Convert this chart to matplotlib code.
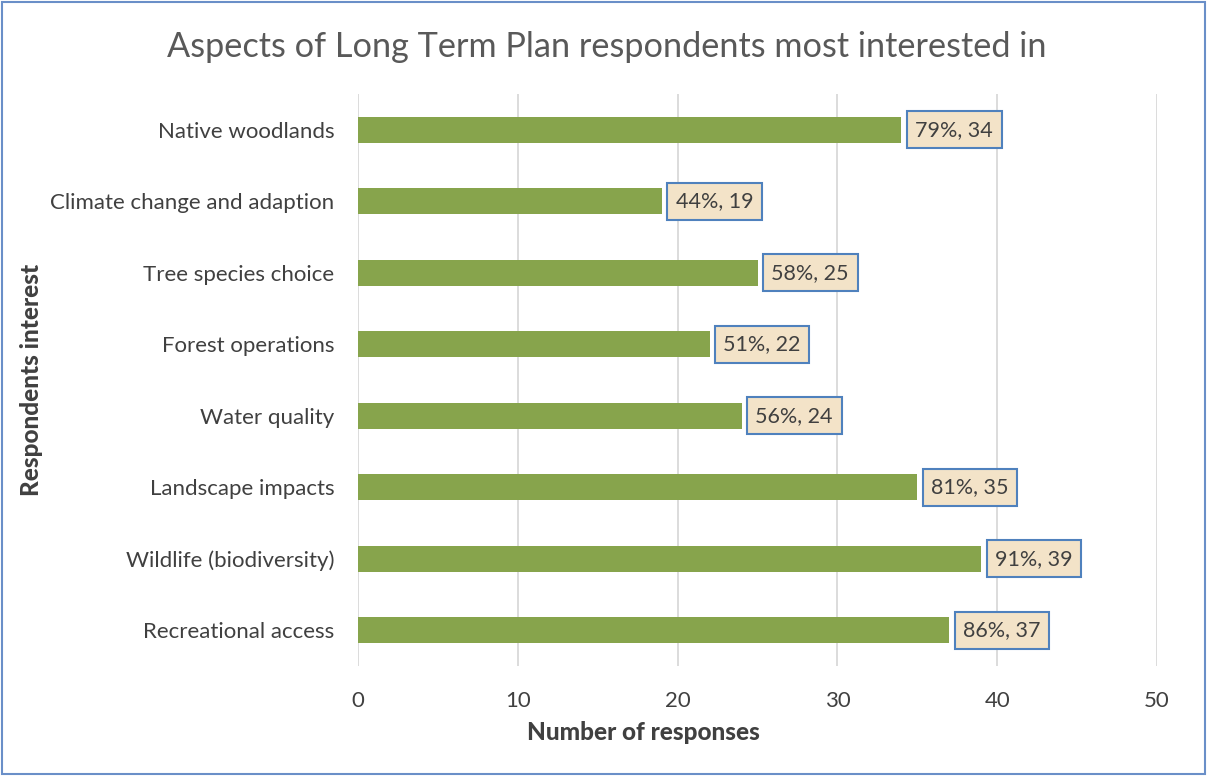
import matplotlib.pyplot as plt
from matplotlib.patches import Rectangle

categories = ["Recreational access", "Wildlife (biodiversity)", "Landscape impacts",
              "Water quality", "Forest operations", "Tree species choice",
              "Climate change and adaption", "Native woodlands"]
counts = [37, 39, 35, 24, 22, 25, 19, 34]
percents = [86, 91, 81, 56, 51, 58, 44, 79]
xticks = [0, 10, 20, 30, 40, 50]

plt.rcParams['font.family'] = ['Lato', 'DejaVu Sans']
txt = '#404040'

fig = plt.figure(figsize=(12.07, 7.76), dpi=100)
ax = fig.add_axes([0.2966, 0.1418, 0.662, 0.7371])

y = list(range(len(categories)))
ax.barh(y, counts, height=0.36, color='#87A44C', zorder=3)

# data labels: "pct%, count" in tan boxes with blue edge
for yi, c, p in zip(y, counts, percents):
    ax.annotate(f"{p}%, {c}", xy=(c, yi), xytext=(10, 0), textcoords='offset points',
                ha='left', va='center', fontsize=15.5, color=txt, zorder=5,
                bbox=dict(boxstyle='square,pad=0.4', fc='#F3E3C8', ec='#4F81BD', lw=1.5))

ax.set_xlim(0, 50)
ax.set_ylim(-0.5, len(categories) - 0.5)
ax.set_xticks(xticks)
ax.set_yticks(y)
ax.set_yticklabels(categories)
ax.tick_params(axis='both', length=0, labelsize=16, labelcolor=txt)
ax.tick_params(axis='x', pad=18)
ax.tick_params(axis='y', pad=17)
ax.grid(axis='x', color='#D9D9D9', lw=1.3, zorder=0)
for s in ax.spines.values():
    s.set_visible(False)

fig.text(0.533, 0.0555, "Number of responses", fontsize=17.5, fontweight='black',
         color=txt, ha='center', va='center')
fig.text(0.026, 0.51, "Respondents interest", rotation=90, fontsize=17.5, fontweight='black',
         color=txt, ha='center', va='center')

fig.text(0.5025, 0.939, "Aspects of Long Term Plan respondents most interested in",
         fontsize=24.7, color='#595959', ha='center', va='center')

fig.patches.append(Rectangle((0.002, 0.002), 0.996, 0.996, transform=fig.transFigure,
                             fill=False, ec='#6A8FC8', lw=1.5))

fig.savefig('out.png', dpi=100)
